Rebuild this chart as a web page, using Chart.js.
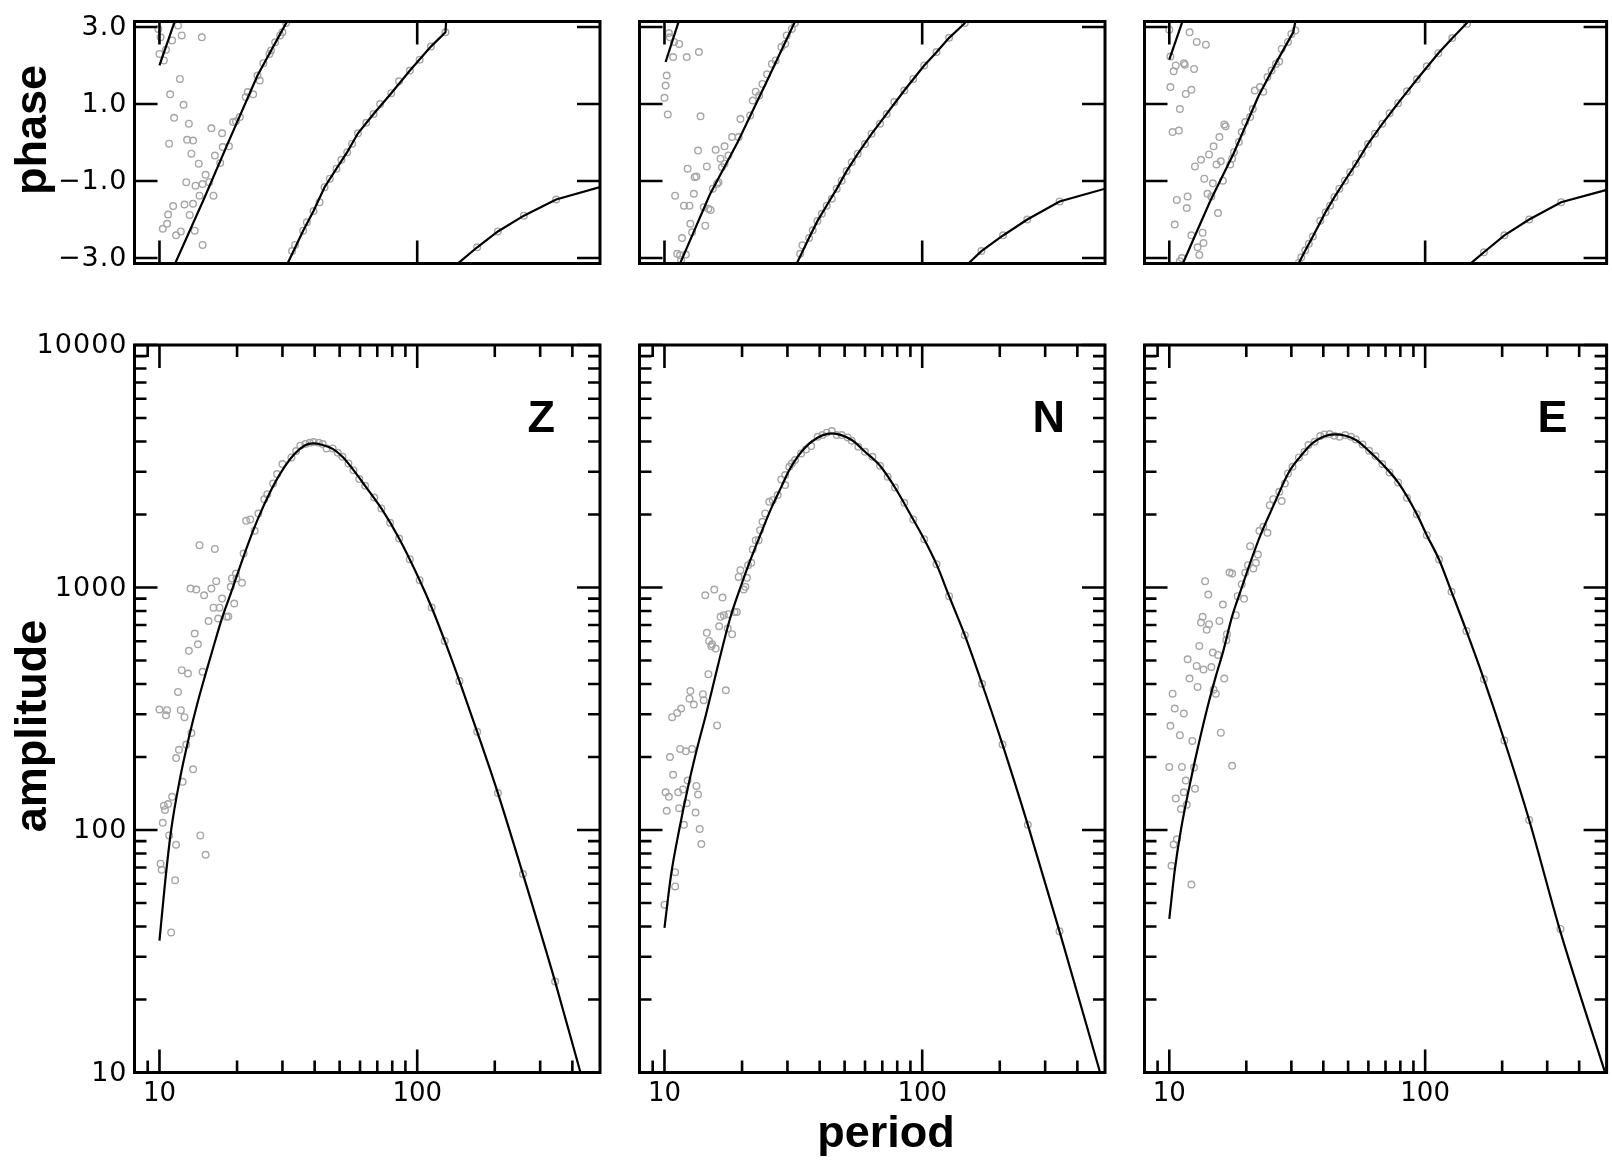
<!DOCTYPE html>
<html>
<head>
<meta charset="utf-8">
<script src="https://cdn.jsdelivr.net/npm/chart.js"></script>
<style>
html,body{margin:0;padding:0;background:#fff;}
#wrap{position:relative;width:1612px;height:1160px;overflow:hidden;background:#fff;}
#wrap canvas{position:absolute;left:0;top:0;}
</style>
</head>
<body>
<div id="wrap">
<canvas id="zPhase" width="1612" height="1160"></canvas>
<canvas id="nPhase" width="1612" height="1160"></canvas>
<canvas id="ePhase" width="1612" height="1160"></canvas>
<canvas id="zAmp" width="1612" height="1160"></canvas>
<canvas id="nAmp" width="1612" height="1160"></canvas>
<canvas id="eAmp" width="1612" height="1160"></canvas>
</div>
<script>
// ---------------- data ----------------
const components = ['Z', 'N', 'E'];

// axis ranges / ticks
const periodRange = [8, 512];
const amplitudeRange = [10, 10000];
const phaseRange = [-Math.PI, Math.PI];
const periodTickValues = [10, 100];
const periodTickLabels = ['10', '100'];
const periodMinorTicks = [9, 20, 30, 40, 50, 60, 70, 80, 90, 200, 300, 400];
const amplitudeTickValues = [10, 100, 1000, 10000];
const amplitudeTickLabels = ['10', '100', '1000', '10000'];
const amplitudeMinorTicks = [20, 30, 40, 50, 60, 70, 80, 90, 200, 300, 400, 500, 600, 700, 800, 900, 2000, 3000, 4000, 5000, 6000, 7000, 8000, 9000];
const phaseTickValues = [-3, -1, 1, 3];
const phaseTickLabels = ['\u22123.0', '\u22121.0', '1.0', '3.0'];

// ---- Z ----
const zAmpPeriod = [10.0,10.6,10.7,12.1,12.5,11.8,12.2,12.9,14.7,13.0,14.1,13.7,13.2,13.9,14.9,15.9,16.6,17.5,16.2,17.1,15.5,16.9,18.2,18.5,18.9,19.5,19.9,20.9,19.1,19.8,21.2,14.3,16.4,21.7,22.5,23.4,24.2,25.5,26.2,27.6,28.6,30.0,32.5,33.9,35.2,36.8,38.3,39.6,41.5,43.0,44.5,47.0,49.2,51.3,54.1,56.6,59.6,62.8,68.1,72.6,78.5,85.1,93.6,102.2,113.8,127.9,145.8,170.9,205.6,257.2,342.8,13.3,11.9,12.7,11.6,13.5,12.3,10.4,10.8,10.5,11.2,10.3,10.9,11.6,14.4,15.1,10.1,10.2,11.5,11.1];
const zAmpValue = [314,297,312,312,292,371,456,442,449,548,583,646,990,981,929,990,1062,900,826,826,727,745,757,760,1007,859,1090,1045,1090,1142,1380,1495,1443,1884,1908,1714,2019,2314,2426,2685,2937,3228,3439,3652,3845,3902,3953,3980,3953,3902,3746,3746,3595,3461,3248,3048,2799,2626,2350,2118,1849,1592,1309,1072,827,602,412,254,142,65.8,23.7,251,214,225,198,178,158,126,128,121,137,107,95,87,95,79,72.6,68.5,62.1,37.8];
const zAmpFitPeriod = [10,10.5,11.1,12.0,13.0,14.0,15.0,16.2,17.5,19.0,21.6,24.0,27.0,29.7,33.4,36.6,39.3,42.7,47.0,51.3,56.6,62.8,72.6,85.1,102.2,113.8,127.9,145.8,170.9,205.6,257.2,342.8,430];
const zAmpFitValue = [35,60,100,162,240,330,430,570,750,960,1420,1900,2500,3000,3550,3850,3930,3880,3730,3460,3048,2626,2118,1592,1072,827,602,412,254,142,65.8,23.7,10];
const zPhasePeriod = [9.9,10.1,11.8,12.2,11.2,14.6,10.6,10.0,10.4,12.0,11.0,12.4,11.4,13.0,12.8,13.5,10.9,13.3,14.2,15.9,17.5,18.6,17.6,16.4,17.2,15.1,15.6,12.7,13.8,14.7,14.3,16.2,13.5,12.5,11.3,10.8,13.1,10.7,10.3,11.6,12.1,13.7,14.7,19.8,20.5,21.6,23.1,24.0,25.3,26.7,28.1,29.4,31.0,19.3,22.0,24.5,27.1,30.0,32.7,36.1,39.6,43.7,48.6,53.5,58.9,67.7,79.3,93.7,113.0,128.7,33.6,37.3,41.8,45.8,50.8,55.9,63.4,71.8,85.0,102.2,170.9,205.6,259.3,345.9];
const zPhaseValue = [2.95,2.73,3.04,2.78,2.65,2.73,2.41,2.30,2.13,1.65,1.25,0.98,0.64,0.49,0.07,0.05,-0.03,-0.29,-0.55,0.37,0.24,-0.10,-0.12,-0.34,-0.53,-0.84,-1.03,-1.03,-1.12,-1.08,-1.38,-1.38,-1.59,-1.61,-1.65,-1.87,-1.88,-2.11,-2.24,-2.41,-2.31,-2.29,-2.66,0.55,0.66,1.18,1.25,1.74,2.06,2.30,2.60,2.78,3.10,0.53,1.31,1.61,2.39,2.86,-2.82,-2.29,-1.78,-1.16,-0.68,-0.25,0.24,0.74,1.28,1.87,2.49,2.86,-2.66,-2.07,-1.55,-0.94,-0.45,-0.03,0.51,1.00,1.59,2.15,-2.72,-2.31,-1.90,-1.48];
const zPhaseFitPeriod = [10,11.45,null,11.5,14.8,18.4,24.0,31.0,31.3,null,31.4,36.1,39.6,43.7,48.6,53.5,58.9,67.7,79.3,93.7,113.0,128.7,129.5,null,144,170.9,205.6,259.3,345.9,512];
const zPhaseFitValue = [2.0,3.14,null,-3.14,-1.5,-0.03,1.74,3.10,3.14,null,-3.14,-2.29,-1.78,-1.16,-0.68,-0.25,0.24,0.74,1.28,1.87,2.49,2.86,3.14,null,-3.14,-2.72,-2.31,-1.90,-1.48,-1.16];

// ---- N ----
const nAmpPeriod = [42.6,44.6,41.0,39.3,46.6,48.7,51.4,53.3,56.5,60.0,64.1,68.6,73.4,78.4,85.2,92.3,101.8,113.6,127.2,146.3,170.7,37.1,35.4,33.9,32.1,31.2,30.5,29.4,28.4,29.4,27.5,26.3,25.5,24.6,24.0,23.5,22.6,23.2,22.0,21.7,21.1,20.9,19.4,19.7,20.3,20.6,18.7,19.1,18.3,17.6,16.3,16.5,17.0,17.7,16.8,15.6,14.4,14.6,14.9,15.3,15.8,15.2,14.8,17.3,12.6,12.5,13.0,14.1,14.2,11.6,11.2,10.7,16.0,11.5,12.1,12.8,10.5,10.8,12.3,13.3,10.1,10.4,11.3,11.8,13.5,12.2,10.2,11.4,13.2,11.9,13.7,13.9,11.0,11.0,10.0,205,257,341];
const nAmpValue = [4348,4416,4253,4185,4253,4253,4159,4030,3805,3628,3460,3177,2862,2585,2235,1908,1582,1248,921,636,401,3830,3710,3572,3353,3248,3147,2907,2790,2644,2404,2292,2256,2020,1866,1724,1567,1567,1435,1264,1236,1096,1106,1179,981,1006,793,793,642,677,692,757,769,776,909,981,929,650,602,583,560,572,439,377,374,348,329,363,343,317,304,292,270,216,211,216,200,169,160,152,143,137,143,147,140,129,120,123,118,105,101,87.5,67,58.5,49.2,225,105,38.2];
const nAmpFitPeriod = [10,10.6,11.4,12.5,13.5,14.5,16.3,18.0,19.7,21.5,23.5,26.1,28.4,30.5,33.1,37.3,44.6,53.3,60.0,68.6,78.4,92.3,101.8,113.6,127.2,146.3,170.7,205,257,341,490];
const nAmpFitValue = [39.5,65,100,160,225,300,500,750,1000,1290,1640,2150,2600,3050,3500,4000,4320,4055,3628,3177,2585,1908,1582,1248,921,636,401,225,105,38.2,10];
const nPhasePeriod = [10.4,10.5,10.9,11.4,10.8,12.2,13.6,10.2,10.1,10.0,10.3,13.8,13.5,15.8,17.1,14.6,12.3,13.3,13.1,16.5,17.7,17.1,16.2,16.0,11.0,13.0,11.9,12.5,14.2,14.8,15.1,12.6,14.4,11.7,12.8,11.2,11.5,12.1,11.6,15.4,16.7,18.3,19.4,19.7,21.5,22.0,23.3,22.6,24.0,25.0,26.1,27.0,28.4,29.4,29.8,31.2,32.1,33.6,34.3,36.4,37.6,39.2,40.8,42.6,44.6,46.6,48.7,50.9,53.3,56.2,60.0,63.6,68.6,72.8,77.9,85.2,92.3,101.8,113.6,127.2,146.3,169.7,205.9,255.7,341.2];
const nPhaseValue = [2.84,2.73,2.61,2.56,2.22,2.22,2.35,1.74,1.48,1.16,0.73,0.68,-0.21,-0.19,-0.10,-0.62,-0.68,-0.88,-0.90,-0.42,-0.34,-0.55,-1.03,-1.07,-1.38,-1.33,-1.64,-1.64,-1.68,-1.72,-1.75,-2.11,-2.16,-2.48,-2.33,-2.89,-2.93,-2.91,-3.05,-1.20,-0.64,0.14,0.14,0.61,0.70,1.09,1.22,1.32,1.52,1.77,2.04,2.13,2.48,2.56,2.78,2.95,3.10,-2.89,-2.67,-2.48,-2.28,-2.04,-1.85,-1.64,-1.46,-1.20,-0.99,-0.74,-0.51,-0.29,-0.04,0.23,0.49,0.74,1.05,1.35,1.65,2.00,2.35,2.72,3.10,-2.82,-2.41,-2.00,-1.53];
const nPhaseFitPeriod = [10.1,11.35,null,11.5,15.0,19.2,24.8,32.1,null,32.6,36.4,39.2,42.6,46.6,50.9,56.2,63.6,72.8,85.2,101.8,113.6,127.2,146.3,147.5,null,151,169.7,205.9,255.7,341.2,512];
const nPhaseFitValue = [2.09,3.14,null,-3.14,-1.35,0.0,1.55,3.14,null,-3.14,-2.475,-2.042,-1.635,-1.203,-0.744,-0.294,0.225,0.744,1.35,2.0,2.345,2.717,3.098,3.14,null,-3.14,-2.821,-2.414,-1.999,-1.532,-1.20];

// ---- E ----
const eAmpPeriod = [38.9,40.4,42.3,44.2,46.2,48.7,51.3,53.6,56.9,60.4,64.0,68.0,72.6,78.4,84.9,92.8,101.5,113.3,126.8,145,169.7,204,37.0,35.0,33.8,32.1,30.3,29.1,28.3,26.9,27.5,25.5,24.7,24.2,23.3,22.5,22.2,21.8,21.3,20.7,20.3,19.8,19.2,19.6,18.5,18.2,17.6,17.2,13.8,14.2,16.2,15.7,14.3,14.0,13.5,13.3,13.1,16.8,16.7,15.5,14.8,14.6,13.6,12.8,11.8,12.0,12.9,16.4,14.9,15.2,10.3,10.5,11.4,10.1,11.0,15.9,12.3,10.0,11.2,12.5,17.6,11.6,11.4,12.6,10.6,11.7,11.1,10.7,10.4,10.2,12.2,255,338];
const eAmpValue = [4211,4279,4293,4225,4185,4253,4185,4080,3891,3664,3483,3228,2982,2712,2344,2007,1644,1305,960,662,418,234,3990,3867,3628,3440,3147,2954,2686,2482,2271,2314,2186,1681,1779,1713,1368,1264,1198,1481,1236,1149,1032,898,921,769,1142,1153,1062,935,851,728,706,669,757,717,574,642,606,527,539,470,459,475,506,421,389,421,379,365,365,317,302,269,246,252,233,182,182,181,184,160,143,148,135,127,122,91.5,87.2,71.2,59.6,110,39.1];
const eAmpFitPeriod = [10,10.5,11.1,12.2,13.2,14.2,15.2,16.2,17.6,19.2,20.8,22.7,25.4,29.4,32.4,36.4,44.2,53.6,60.4,68.0,78.4,92.8,101.5,113.3,126.8,145,169.7,204,255,338,505];
const eAmpFitValue = [43,68,100,165,240,330,430,540,760,1000,1280,1640,2150,3000,3450,3950,4276,4060,3650,3228,2712,2007,1644,1305,960,662,418,234,110,38,10];
const ePhasePeriod = [10.0,12.0,12.8,13.9,10.1,10.6,10.4,11.4,11.5,12.5,10.1,11.6,12.2,11.0,10.3,10.9,16.4,16.6,15.7,14.9,14.3,13.3,12.6,15.3,15.9,13.7,16.2,14.8,14.1,14.6,10.7,11.8,11.7,15.5,10.5,12.2,13.5,13.6,12.9,13.1,11.0,11.2,17.3,17.6,17.9,18.7,19.2,19.8,20.7,21.2,21.6,22.6,23.3,24.2,25.1,26.1,26.9,27.5,29.1,30.0,31.1,32.1,32.8,34.0,35.1,36.4,38.9,40.8,42.5,44.2,46.2,48.6,50.9,53.6,56.5,59.8,63.7,68.0,72.6,78.4,84.9,92.8,101.5,112.6,127.6,145.9,169.7,204,255,340];
const ePhaseValue = [2.93,2.86,2.61,2.54,2.23,2.00,1.85,2.06,2.02,1.91,1.44,1.26,1.37,0.87,0.27,0.31,0.47,0.42,0.14,-0.10,-0.31,-0.45,-0.62,-0.57,-0.49,-0.94,-0.99,-1.06,-1.33,-1.40,-1.49,-1.40,-1.70,-1.83,-2.13,-2.41,-2.34,-2.61,-2.72,-2.92,-3.08,-3.00,-0.57,-0.42,-0.25,0.01,0.27,0.53,0.66,0.87,1.35,1.44,1.32,1.70,1.87,2.04,2.10,2.43,2.61,2.82,2.91,-3.12,-2.98,-2.80,-2.63,-2.44,-2.03,-1.81,-1.64,-1.42,-1.20,-0.99,-0.77,-0.55,-0.29,-0.04,0.23,0.49,0.76,1.02,1.33,1.64,1.98,2.32,2.71,3.08,-2.85,-2.41,-2.00,-1.55];
const ePhaseFitPeriod = [10.0,11.25,null,11.3,12.7,14.5,17.8,22.3,26.3,30.5,31.1,null,32.0,34.0,36.4,40.8,44.2,48.6,53.6,59.8,68.0,78.4,92.8,112.6,127.6,147.5,null,150.7,169.7,204,255,340,512];
const ePhaseFitValue = [2.15,3.14,null,-3.14,-2.37,-1.5,-0.3,1.2,2.1,2.86,3.14,null,-3.14,-2.804,-2.44,-1.808,-1.419,-0.986,-0.554,-0.035,0.485,1.021,1.636,2.319,2.709,3.14,null,-3.14,-2.85,-2.41,-2.0,-1.55,-1.23];

// ---------------- layout / style ----------------
const W = 1612, H = 1160;
const columns = { Z: {left: 134.5, right: 600}, N: {left: 639.5, right: 1105}, E: {left: 1144.5, right: 1610} };
const phaseRow = {top: 21.5, bottom: 263.5};
const ampRow = {top: 345, bottom: 1072.5};
const X_TICK_FONT = '26px "DejaVu Sans", "Liberation Sans", sans-serif';
const Y_TICK_FONT = '27px "DejaVu Sans", "Liberation Sans", sans-serif';
const TITLE_FONT = 'bold 45px "Liberation Sans", Arial, Helvetica, sans-serif';
const POINT_COLOR = '#a6a6a6';

const DECOR = {};

const decorPlugin = {
  id: 'panelDecor',
  afterDatasetsDraw(chart) {
    const d = DECOR[chart.canvas.id];
    if (!d) return;
    const ctx = chart.ctx, a = chart.chartArea, sx = chart.scales.x, sy = chart.scales.y;
    ctx.save();
    ctx.strokeStyle = '#000';
    ctx.lineCap = 'butt';
    ctx.lineWidth = 2.6;
    ctx.beginPath();
    const xt = (vals, len) => vals.forEach(v => {
      const p = sx.getPixelForValue(v);
      ctx.moveTo(p, a.bottom); ctx.lineTo(p, a.bottom - len);
      ctx.moveTo(p, a.top); ctx.lineTo(p, a.top + len);
    });
    const yt = (vals, len) => vals.forEach(v => {
      const p = sy.getPixelForValue(v);
      ctx.moveTo(a.left, p); ctx.lineTo(a.left + len, p);
      ctx.moveTo(a.right, p); ctx.lineTo(a.right - len, p);
    });
    xt(d.xMajor, 23);
    if (d.xMinor) xt(d.xMinor, 12);
    yt(d.yMajor, 23);
    if (d.yMinor) yt(d.yMinor, 12);
    ctx.stroke();
    ctx.lineWidth = 3;
    ctx.strokeRect(a.left, a.top, a.right - a.left, a.bottom - a.top);

    ctx.fillStyle = '#000';
    ctx.textBaseline = 'alphabetic';
    if (d.xLabels) {
      ctx.font = X_TICK_FONT;
      ctx.textAlign = 'center';
      d.xLabels.forEach((t, i) => ctx.fillText(t, sx.getPixelForValue(d.xLabelValues[i]), a.bottom + 28));
    }
    if (d.yLabels) {
      ctx.font = Y_TICK_FONT;
      ctx.textAlign = 'right';
      if ('letterSpacing' in ctx) ctx.letterSpacing = '1px';
      d.yLabels.forEach((t, i) => ctx.fillText(t, a.left - 7, sy.getPixelForValue(d.yLabelValues[i]) + 8));
      if ('letterSpacing' in ctx) ctx.letterSpacing = '0px';
    }
    (d.texts || []).forEach(t => {
      ctx.save();
      ctx.font = TITLE_FONT;
      ctx.textAlign = t.align || 'left';
      ctx.textBaseline = 'alphabetic';
      ctx.translate(t.x, t.y);
      if (t.rot) ctx.rotate(t.rot);
      ctx.fillText(t.text, 0, 0);
      ctx.restore();
    });
    ctx.restore();
  }
};

function zip(P, V) { return P.map((p, i) => ({x: p, y: V[i]})); }
function segments(P, V) {
  const out = []; let cur = [];
  P.forEach((p, i) => {
    if (p === null || V[i] === null) { if (cur.length) out.push(cur); cur = []; }
    else cur.push({x: p, y: V[i]});
  });
  if (cur.length) out.push(cur);
  return out;
}

function makePanel(id, comp, kind, sP, sV, fP, fV, decor) {
  DECOR[id] = decor;
  const col = columns[comp];
  const row = kind === 'amp' ? ampRow : phaseRow;
  const fitSets = segments(fP, fV).map(seg => Object.assign({
    data: seg, showLine: true, borderColor: '#000', borderWidth: 2.2,
    pointRadius: 0, fill: false, order: 0
  }, kind === 'amp' ? { cubicInterpolationMode: 'monotone' } : { tension: 0 }));
  const scatterSet = {
    data: zip(sP, sV), showLine: false, pointRadius: 3.3, pointBorderWidth: 1.4,
    pointBorderColor: POINT_COLOR, pointBackgroundColor: 'rgba(255,255,255,0)', order: 1
  };
  new Chart(document.getElementById(id), {
    type: 'scatter',
    data: { datasets: [...fitSets, scatterSet] },
    options: {
      responsive: false, animation: false, events: [], devicePixelRatio: 1,
      layout: { padding: { left: col.left, right: W - col.right, top: row.top, bottom: H - row.bottom } },
      plugins: { legend: {display: false}, tooltip: {enabled: false} },
      scales: {
        x: { type: 'logarithmic', min: periodRange[0], max: periodRange[1], display: false },
        y: kind === 'amp'
          ? { type: 'logarithmic', min: amplitudeRange[0], max: amplitudeRange[1], display: false }
          : { type: 'linear', min: phaseRange[0], max: phaseRange[1], display: false }
      }
    },
    plugins: [decorPlugin]
  });
}

const labelLetter = (comp) => ({ text: comp, x: columns[comp].left + 393, y: 432, align: 'left' });

// phase panels
makePanel('zPhase', 'Z', 'phase', zPhasePeriod, zPhaseValue, zPhaseFitPeriod, zPhaseFitValue, {
  xMajor: periodTickValues, yMajor: phaseTickValues,
  yLabels: phaseTickLabels, yLabelValues: phaseTickValues,
  texts: [{ text: 'phase', x: 46, y: 130, rot: -Math.PI / 2, align: 'center' }]
});
makePanel('nPhase', 'N', 'phase', nPhasePeriod, nPhaseValue, nPhaseFitPeriod, nPhaseFitValue, {
  xMajor: periodTickValues, yMajor: phaseTickValues
});
makePanel('ePhase', 'E', 'phase', ePhasePeriod, ePhaseValue, ePhaseFitPeriod, ePhaseFitValue, {
  xMajor: periodTickValues, yMajor: phaseTickValues
});

// amplitude panels
makePanel('zAmp', 'Z', 'amp', zAmpPeriod, zAmpValue, zAmpFitPeriod, zAmpFitValue, {
  xMajor: periodTickValues, xMinor: periodMinorTicks, yMajor: amplitudeTickValues, yMinor: amplitudeMinorTicks,
  xLabels: periodTickLabels, xLabelValues: periodTickValues,
  yLabels: amplitudeTickLabels, yLabelValues: amplitudeTickValues,
  texts: [labelLetter('Z'), { text: 'amplitude', x: 46, y: 726, rot: -Math.PI / 2, align: 'center' }]
});
makePanel('nAmp', 'N', 'amp', nAmpPeriod, nAmpValue, nAmpFitPeriod, nAmpFitValue, {
  xMajor: periodTickValues, xMinor: periodMinorTicks, yMajor: amplitudeTickValues, yMinor: amplitudeMinorTicks,
  xLabels: periodTickLabels, xLabelValues: periodTickValues,
  texts: [labelLetter('N'), { text: 'period', x: 886, y: 1147, align: 'center' }]
});
makePanel('eAmp', 'E', 'amp', eAmpPeriod, eAmpValue, eAmpFitPeriod, eAmpFitValue, {
  xMajor: periodTickValues, xMinor: periodMinorTicks, yMajor: amplitudeTickValues, yMinor: amplitudeMinorTicks,
  xLabels: periodTickLabels, xLabelValues: periodTickValues,
  texts: [labelLetter('E')]
});
</script>
</body>
</html>
